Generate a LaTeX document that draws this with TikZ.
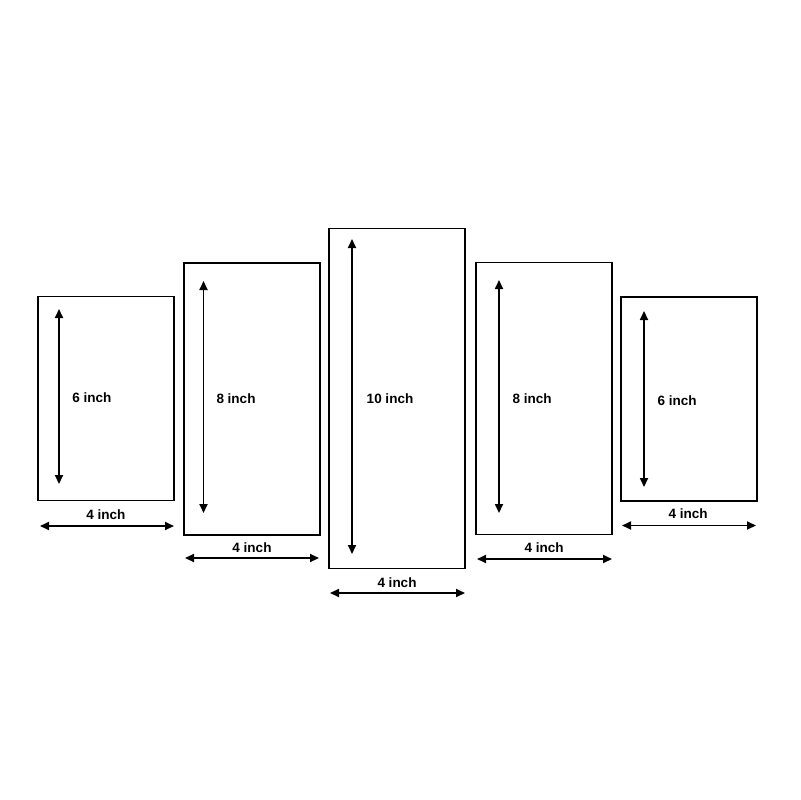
\documentclass[tikz,border=0pt]{standalone}
\usepackage{fontspec}
\setmainfont{Liberation Sans}
\usetikzlibrary{arrows.meta,calc,positioning}

\tikzset{
  panel/.style={draw,black,line width=1.3pt,minimum width=3.4cm,inner sep=0pt},
  dimline/.style={black,line width=1.2pt,{Triangle[length=6.4pt,width=5.7pt]}-{Triangle[length=6.4pt,width=5.7pt]}},
  dimtext/.style={font=\bfseries\fontsize{9.6}{11}\selectfont,inner sep=0pt}
}

\begin{document}
\begin{tikzpicture}[x=0.025cm,y=-0.025cm]
\useasboundingbox (0,0) rectangle (800,800);
% panels
\node[panel,minimum height=5.1cm] (p1) at (106,398.5) {};
\node[panel,minimum height=6.8cm] (p2) at (251.7,399) {};
\node[panel,minimum height=8.5cm] (p3) at (397,398.5) {};
\node[panel,minimum height=6.8cm] (p4) at (544,398.5) {};
\node[panel,minimum height=5.1cm] (p5) at (689,398.7) {};
% height arrows
\coordinate (h1a) at (59,309);   \coordinate (h1b) at (59,484);
\coordinate (h2a) at (203.5,281); \coordinate (h2b) at (203.5,513);
\coordinate (h3a) at (352,239);  \coordinate (h3b) at (352,554);
\coordinate (h4a) at (499,280);  \coordinate (h4b) at (499,513);
\coordinate (h5a) at (644,311);  \coordinate (h5b) at (644,487);
\draw[dimline] (h1a) -- (h1b);
\draw[dimline] (h2a) -- (h2b);
\draw[dimline] (h3a) -- (h3b);
\draw[dimline] (h4a) -- (h4b);
\draw[dimline] (h5a) -- (h5b);
% width arrows
\coordinate (w1a) at (40,526);   \coordinate (w1b) at (174,526);
\coordinate (w2a) at (185,558);  \coordinate (w2b) at (319,558);
\coordinate (w3a) at (330,593);  \coordinate (w3b) at (465,593);
\coordinate (w4a) at (477,559);  \coordinate (w4b) at (612,559);
\coordinate (w5a) at (622,525.5); \coordinate (w5b) at (756,525.5);
\draw[dimline] (w1a) -- (w1b);
\draw[dimline] (w2a) -- (w2b);
\draw[dimline] (w3a) -- (w3b);
\draw[dimline] (w4a) -- (w4b);
\draw[dimline] (w5a) -- (w5b);
% labels
\node[dimtext] (t1) at (92,398) {6 inch};
\node[dimtext] (t2) at (236,399) {8 inch};
\node[dimtext] (t3) at (390,399) {10 inch};
\node[dimtext] (t4) at (532,399) {8 inch};
\node[dimtext] (t5) at (677,401) {6 inch};
\node[dimtext] (b1) at (106,515) {4 inch};
\node[dimtext] (b2) at (252,548) {4 inch};
\node[dimtext] (b3) at (397,583) {4 inch};
\node[dimtext] (b4) at (544,548) {4 inch};
\node[dimtext] (b5) at (688,514) {4 inch};
\end{tikzpicture}
\end{document}
